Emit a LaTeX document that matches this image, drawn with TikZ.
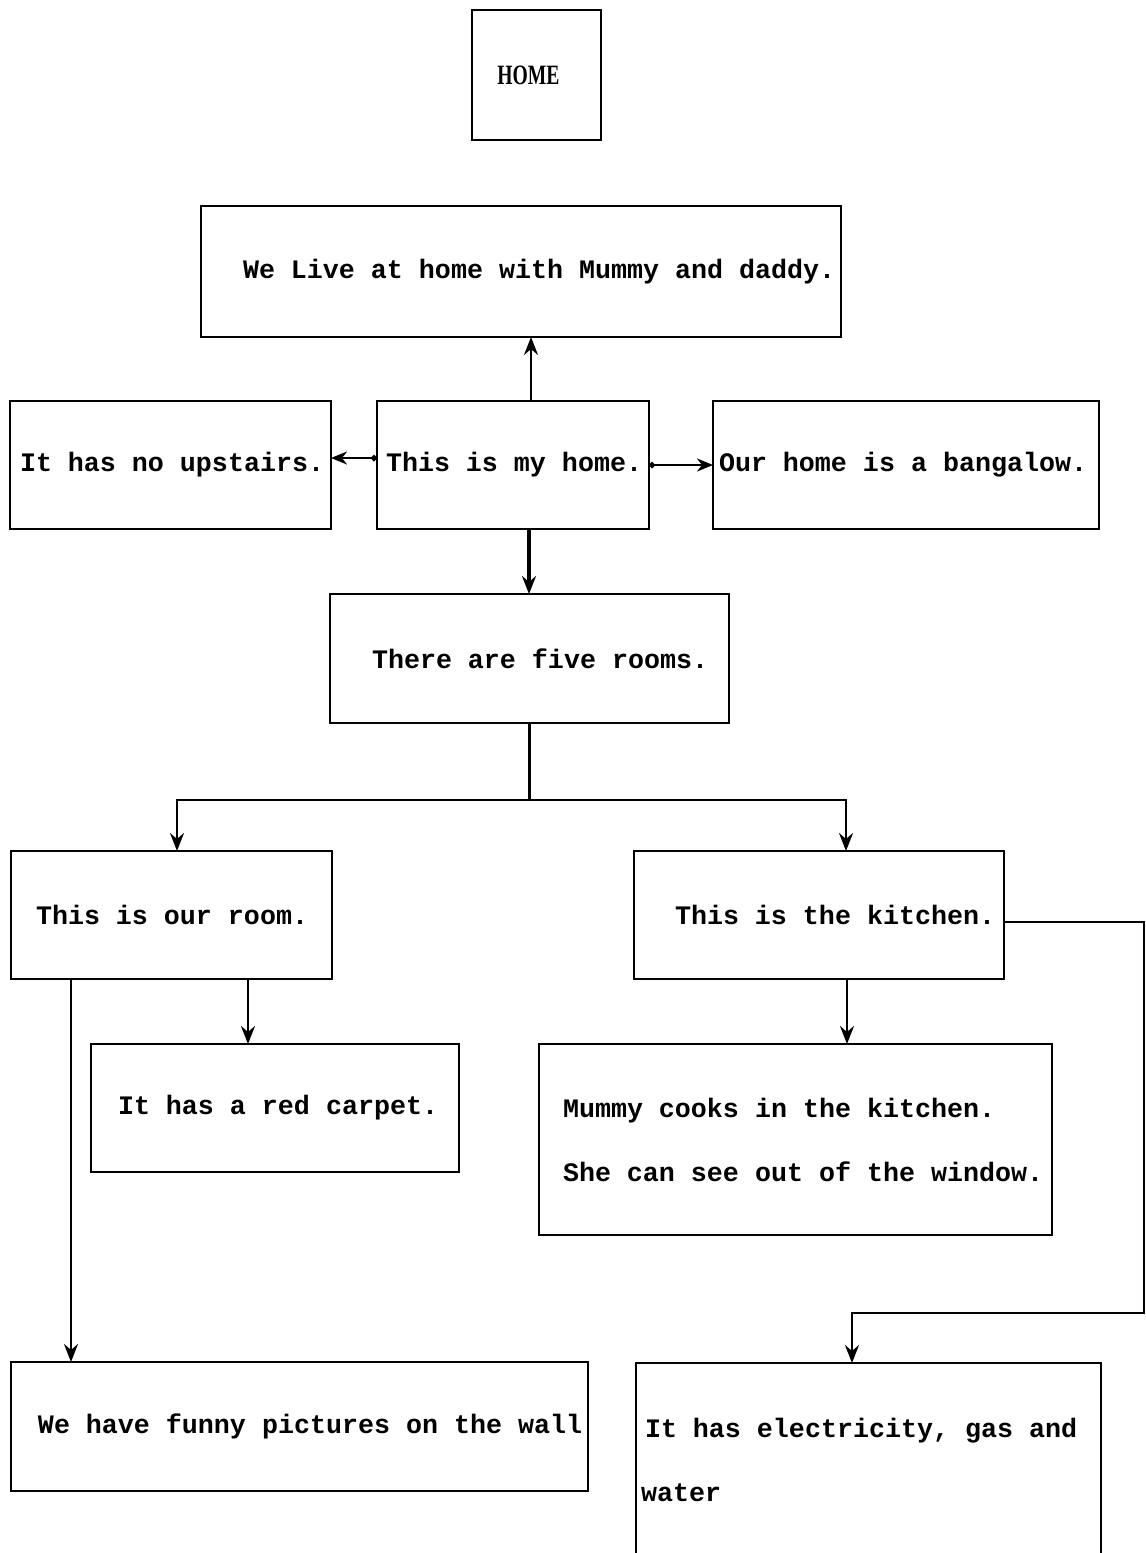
\documentclass[tikz,border=0pt]{standalone}
\usepackage{fontspec}
\setmainfont{Liberation Serif}
\newfontfamily\monof{Liberation Mono}
\usetikzlibrary{arrows.meta,calc}
\newcommand{\monoset}{\monof\bfseries\fontsize{26.67}{64}\selectfont\frenchspacing}
\newcommand{\monospacing}{\spaceskip=16pt plus 0pt minus 0pt\xspaceskip=16pt plus 0pt minus 0pt\relax}
\tikzset{
  bx/.style={draw, line width=2.2pt, rectangle, inner xsep=0pt, inner ysep=0pt, outer sep=0pt,
    align=flush left, anchor=north west, font=\monoset, execute at begin node=\monospacing},
  ln/.style={line width=2.6pt},
  arr/.style={line width=2.6pt, -{Stealth[length=18pt,width=14pt,inset=6pt]}},
  arrd/.style={line width=2.4pt, {Circle[length=6pt]}-{Stealth[length=16pt,width=13pt,inset=5pt]}},
}
\begin{document}
\begin{tikzpicture}[x=1pt,y=-1pt]
\useasboundingbox (0,0) rectangle (1146,1553);
\clip (0,0) rectangle (1146,1553);
\fill[white] (0,0) rectangle (1146,1553);

\node[draw, line width=2.2pt, minimum width=129pt, minimum height=130pt, anchor=north west,
  inner sep=0pt, outer sep=0pt, font=\bfseries\fontsize{28}{28}\selectfont] (home) at (472,10)
  {\scalebox{0.7}[1]{HOME}\hspace*{16pt}};

\node[bx, text width=640pt, minimum height=131pt] (mummy) at (201,206)
  {\hspace*{42pt}We Live at home with Mummy and daddy.};
\node[bx, text width=321pt, minimum height=128pt] (upstairs) at (10,401)
  {\hspace*{10pt}It has no upstairs.};
\node[bx, text width=272pt, minimum height=128pt] (myhome) at (377,401)
  {\hspace*{9pt}This is my home.};
\node[bx, text width=386pt, minimum height=128pt] (bangalow) at (713,401)
  {\hspace*{6pt}Our home is a bangalow.};
\node[bx, text width=399pt, minimum height=129pt] (rooms) at (330,594)
  {\hspace*{42pt}There are five rooms.};
\node[bx, text width=321pt, minimum height=128pt] (ourroom) at (11,851)
  {\hspace*{25pt}This is our room.};
\node[bx, text width=370pt, minimum height=128pt] (kitchen) at (634,851)
  {\hspace*{41pt}This is the kitchen.};
\node[bx, text width=368pt, minimum height=128pt] (carpet) at (91,1044)
  {\hspace*{27pt}It has a red carpet.};
\node[bx, text width=513pt, minimum height=191pt] (cooks) at (539,1044)
  {\hspace*{24pt}Mummy cooks in the kitchen.\\\hspace*{24pt}She can see out of the window.};
\node[bx, text width=577pt, minimum height=129pt] (funny) at (11,1362)
  {\hspace*{27pt}We have funny pictures on the wall};
\node[bx, text width=465pt, minimum height=193pt] (elec) at (636,1363)
  {\hspace*{9pt}It has electricity, gas and\\\hspace*{5pt}water};

% connectors
\draw[arr] ([xshift=154pt]myhome.north west) -- ([xshift=154pt]myhome.north west |- mummy.south);
\draw[arrd] ([yshift=-57pt]myhome.north west) -- ([yshift=-57pt]myhome.north west -| upstairs.east);
\draw[arrd] (myhome.east) -- (myhome.east -| bangalow.west);
\draw[arr, line width=3.2pt] ([xshift=152pt]myhome.south west) -- ([xshift=152pt]myhome.south west |- rooms.north);

\draw[ln] (rooms.south) -- ([yshift=-77pt]rooms.south) coordinate (split);
\draw[arr] (split) -| ([xshift=166pt]ourroom.north west);
\draw[arr] (split) -| ([xshift=212pt]kitchen.north west);

\draw[arr] ([xshift=213pt]kitchen.south west) -- ([xshift=213pt]kitchen.south west |- cooks.north);
\draw[arr] ([yshift=-71pt]kitchen.north east) -- ++(140,0) -- ++(0,391) -| ([xshift=216pt]elec.north west);

\draw[arr] ([xshift=237pt]ourroom.south west) -- ([xshift=237pt]ourroom.south west |- carpet.north);
\draw[arr] ([xshift=60pt]ourroom.south west) -- ([xshift=60pt]ourroom.south west |- funny.north);
\end{tikzpicture}
\end{document}
